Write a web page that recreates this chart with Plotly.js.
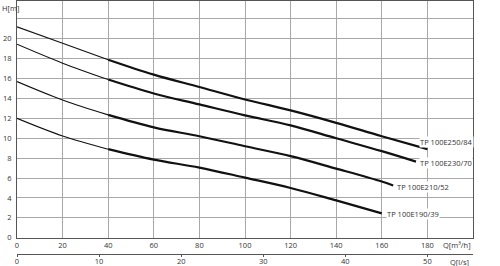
<!DOCTYPE html>
<html>
<head>
<meta charset="utf-8">
<script src="https://cdn.plot.ly/plotly-3.0.1.min.js"></script>
<style>html,body{margin:0;padding:0;background:#fff}#c{width:500px;height:266px}</style>
</head>
<body>
<div id="c"></div>
<script>
const qA = [0, 20, 40, 60, 80, 100, 120, 140, 160, 180];
const hA = [21.2, 19.55, 17.9, 16.4, 15.15, 13.9, 12.8, 11.55, 10.2, 8.9];
const qB = [0, 20, 40, 60, 80, 100, 120, 140, 160, 175];
const hB = [19.45, 17.55, 15.9, 14.5, 13.4, 12.3, 11.3, 10.0, 8.7, 7.65];
const qC = [0, 20, 40, 60, 80, 100, 120, 140, 160, 165];
const hC = [15.7, 13.85, 12.35, 11.1, 10.2, 9.2, 8.2, 6.95, 5.65, 5.25];
const qD = [0, 20, 40, 60, 80, 100, 120, 140, 160];
const hD = [12.0, 10.23, 8.9, 7.85, 7.05, 6.04, 5.0, 3.75, 2.45];
const names = ["TP 100E250/84", "TP 100E230/70", "TP 100E210/52", "TP 100E190/39"];
const series = [[qA, hA], [qB, hB], [qC, hC], [qD, hD]];
const thickFrom = 2; // index where the operating (thick) range begins

const yTicks = [0, 2, 4, 6, 8, 10, 12, 14, 16, 18, 20, 22];
const yTickText = ["0", "2", "4", "6", "8", "10", "12", "14", "16", "18", "20", ""];
const xTicks = [0, 20, 40, 60, 80, 100, 120, 140, 160, 180];
const lsTicks = [0, 10, 20, 30, 40, 50];

const FONT = "Open Sans, DejaVu Sans, sans-serif";
const TXT = "#333";

const traces = [];
series.forEach(([q, h]) => {
  traces.push({x: q.slice(0, thickFrom + 1), y: h.slice(0, thickFrom + 1), mode: "lines",
    line: {color: "#111", width: 1.1, shape: "spline", smoothing: 1}, hoverinfo: "skip", showlegend: false});
  traces.push({x: q.slice(thickFrom), y: h.slice(thickFrom), mode: "lines",
    line: {color: "#111", width: 2.2, shape: "spline", smoothing: 1}, hoverinfo: "skip", showlegend: false});
});
traces.push({x: [0], y: [0], xaxis: "x2", mode: "markers", marker: {opacity: 0}, hoverinfo: "skip", showlegend: false});

// label anchor positions (data coords)
const labelX = [176.4, 176.4, 166.1, 161.8];
const labelY = [9.6, 7.48, 5.13, 2.35];

const annotations = names.map((n, i) => ({
  text: n, x: labelX[i], y: labelY[i], xref: "x", yref: "y", xanchor: "left", yanchor: "middle",
  showarrow: false, bgcolor: "#fff", borderpad: 0, font: {family: FONT, size: 7.5, color: TXT}
}));
annotations.push({text: "H[m]", xref: "paper", yref: "paper", x: -0.037, y: 0.974, xanchor: "left", yanchor: "middle",
  showarrow: false, font: {family: FONT, size: 7.5, color: TXT}});
annotations.push({text: "Q[m³/h]", xref: "paper", yref: "paper", x: 1, y: 0.079, xanchor: "right", yanchor: "middle",
  showarrow: false, font: {family: FONT, size: 7.5, color: TXT}});
annotations.push({text: "Q[l/s]", xref: "paper", yref: "paper", x: 0.995, y: 0.0151, xanchor: "right", yanchor: "middle",
  showarrow: false, font: {family: FONT, size: 7.5, color: TXT}});

const layout = {
  width: 500, height: 266,
  margin: {l: 17, r: 27, t: 1, b: 0},
  paper_bgcolor: "#fff", plot_bgcolor: "#fff",
  showlegend: false,
  font: {family: FONT, size: 7.5, color: TXT},
  xaxis: {range: [0, 200], tickvals: xTicks, showgrid: true, gridcolor: "#a8a8a8", gridwidth: 1,
    zeroline: false, showline: true, mirror: true, linecolor: "#555", linewidth: 1, ticks: "",
    tickfont: {family: FONT, size: 7.5, color: TXT}, fixedrange: true},
  xaxis2: {range: [0, 200 / 3.6], overlaying: "x", anchor: "free", position: 0.046, side: "bottom",
    tickvals: lsTicks, showgrid: false, zeroline: false, showline: true, linecolor: "#555", linewidth: 1,
    ticks: "outside", ticklen: 2, tickcolor: "#555", ticklabelstandoff: -2,
    tickfont: {family: FONT, size: 7.5, color: TXT}},
  yaxis: {range: [0, 23.8], domain: [0.1068, 1], tickvals: yTicks, ticktext: yTickText, showgrid: true,
    gridcolor: "#a8a8a8", gridwidth: 1, zeroline: false, showline: true, mirror: true, linecolor: "#555",
    linewidth: 1, ticks: "", ticklabelstandoff: 3, tickfont: {family: FONT, size: 7.5, color: TXT}},
  annotations: annotations
};

Plotly.newPlot("c", traces, layout, {staticPlot: true, displayModeBar: false});
</script>
</body>
</html>
